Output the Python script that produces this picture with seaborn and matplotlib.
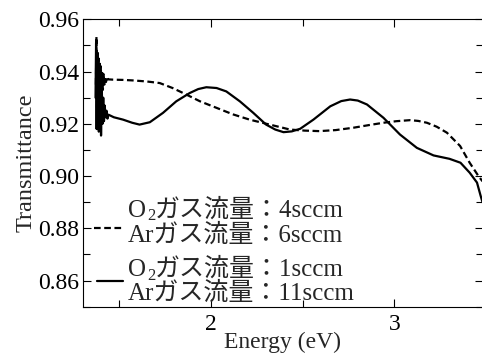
import numpy as np
import pandas as pd
import matplotlib
matplotlib.use("Agg")
import matplotlib.pyplot as plt
import seaborn as sns
from matplotlib.lines import Line2D
from matplotlib.ticker import MultipleLocator, FormatStrFormatter

# ---- data ----
# O2 4sccm / Ar 6sccm (dashed)
energy_a = [1.372, 1.375, 1.378, 1.381, 1.384, 1.387, 1.390, 1.393, 1.396, 1.399,
            1.402, 1.406, 1.410, 1.414, 1.418, 1.422, 1.427, 1.432, 1.437, 1.442,
            1.465, 1.52, 1.575, 1.65, 1.72, 1.79, 1.865, 1.94, 2.03, 2.12,
            2.21, 2.32, 2.39, 2.43, 2.51, 2.59, 2.68, 2.776, 2.86, 2.94,
            3.01, 3.086, 3.13, 3.177, 3.23, 3.286, 3.358, 3.41, 3.458, 3.48]
trans_a = [0.935, 0.9534, 0.925, 0.948, 0.920, 0.945, 0.929, 0.943, 0.918, 0.942,
           0.931, 0.940, 0.933, 0.939, 0.935, 0.938, 0.936, 0.938, 0.937, 0.937,
           0.9369, 0.9368, 0.9366, 0.9362, 0.9356, 0.9337, 0.9312, 0.9286, 0.9261, 0.9236,
           0.9216, 0.9197, 0.9185, 0.9178, 0.9174, 0.9172, 0.9176, 0.9185, 0.9195, 0.9204,
           0.9210, 0.9214, 0.9211, 0.9204, 0.9189, 0.9166, 0.9115, 0.9051, 0.9000, 0.8980]

# O2 1sccm / Ar 11sccm (solid)
energy_b = [1.370, 1.373, 1.376, 1.379, 1.382, 1.385, 1.388, 1.391, 1.394, 1.397,
            1.400, 1.404, 1.408, 1.412, 1.416, 1.420, 1.425, 1.430, 1.435, 1.440,
            1.47, 1.52, 1.57, 1.61, 1.666, 1.738, 1.81, 1.884, 1.93, 1.974,
            2.03, 2.083, 2.157, 2.23, 2.30, 2.35, 2.395, 2.44, 2.486, 2.558,
            2.65, 2.71, 2.758, 2.80, 2.85, 2.94, 3.03, 3.122, 3.213, 3.30,
            3.36, 3.41, 3.45, 3.47, 3.48]
trans_b = [0.930, 0.951, 0.918, 0.946, 0.921, 0.944, 0.917, 0.940, 0.919, 0.937,
           0.9155, 0.934, 0.920, 0.930, 0.921, 0.927, 0.9225, 0.925, 0.922, 0.9235,
           0.9225, 0.9216, 0.9204, 0.9197, 0.9206, 0.9242, 0.9286, 0.9318, 0.9333, 0.9340,
           0.9337, 0.9324, 0.9286, 0.9242, 0.9197, 0.9178, 0.9168, 0.9171, 0.9181, 0.9216,
           0.9267, 0.9287, 0.9293, 0.9289, 0.9274, 0.9223, 0.9159, 0.9108, 0.9079, 0.9066,
           0.9051, 0.9013, 0.8975, 0.8924, 0.8900]

legend_rows = [("O", "2", "ガス流量：4sccm"), ("Ar", None, "ガス流量：6sccm"),
               ("O", "2", "ガス流量：1sccm"), ("Ar", None, "ガス流量：11sccm")]

x_label = "Energy (eV)"
y_label = "Transmittance"

# ---- style ----
sns.set_style("ticks")
FAM = ["Liberation Serif", "Noto Sans CJK JP", "DejaVu Sans"]
plt.rcParams["font.family"] = FAM
plt.rcParams["axes.linewidth"] = 0.8

W, H = 482, 356
fig = plt.figure(figsize=(W / 100, H / 100), dpi=100)
ax = fig.add_axes([82.7 / W, 1 - 306.7 / H, (482.5 - 82.7) / W, (306.7 - 19.3) / H])

DASH = (0, (3, 1.6))
df_a = pd.DataFrame({"E": energy_a, "T": trans_a})
df_b = pd.DataFrame({"E": energy_b, "T": trans_b})
sns.lineplot(data=df_a, x="E", y="T", ax=ax, color="black", lw=1.6,
             estimator=None, sort=False, linestyle=DASH)
sns.lineplot(data=df_b, x="E", y="T", ax=ax, color="black", lw=1.6,
             estimator=None, sort=False)

ax.set_xlim(1.3, 3.48)
ax.set_ylim(0.85, 0.96)
ax.xaxis.set_major_locator(MultipleLocator(1))
ax.xaxis.set_minor_locator(MultipleLocator(0.5))
ax.yaxis.set_major_locator(MultipleLocator(0.02))
ax.yaxis.set_minor_locator(MultipleLocator(0.01))
ax.yaxis.set_major_formatter(FormatStrFormatter("%.2f"))
ax.tick_params(which="both", direction="in", top=True, right=True,
               width=0.8, labelsize=17, colors="black")
ax.tick_params(which="major", length=5.5, pad=2.5)
ax.tick_params(which="minor", length=5)
ax.tick_params(axis="x", which="major", pad=5)
for s in ax.spines.values():
    s.set_visible(True)
    s.set_color("black")

ax.set_xlabel(x_label, fontsize=17)
ax.set_ylabel(y_label, fontsize=17.5)
ax.xaxis.set_label_coords((282 - 82.7) / 399.8, -(348 - 306.7) / 287.4, transform=ax.transAxes)
ax.xaxis.label.set_va("baseline")
ax.yaxis.set_label_coords((37 - 82.7) / 399.8, 0.5)

# ---- legend (drawn manually) ----
def fx(px):
    return px / W

def fy(py):
    return 1 - py / H

baselines = [217, 242, 276, 300]
for (head, sub, tail), yb in zip(legend_rows, baselines):
    if sub is None:
        fig.text(fx(128), fy(yb), head + tail, fontsize=18, va="baseline", ha="left", family=FAM)
    else:
        fig.text(fx(128), fy(yb), head, fontsize=18, va="baseline", ha="left", family=FAM)
        fig.text(fx(147), fy(yb + 3.5), sub, fontsize=12, va="baseline", ha="left", family=FAM)
        fig.text(fx(155), fy(yb), tail, fontsize=18, va="baseline", ha="left", family=FAM)

fig.add_artist(Line2D([fx(94), fx(123)], [fy(228.3), fy(228.3)], color="black", lw=1.6,
                      linestyle=DASH))
fig.add_artist(Line2D([fx(97), fx(123)], [fy(280.7), fy(280.7)], color="black", lw=1.6))

fig.savefig("out.png", dpi=100)
